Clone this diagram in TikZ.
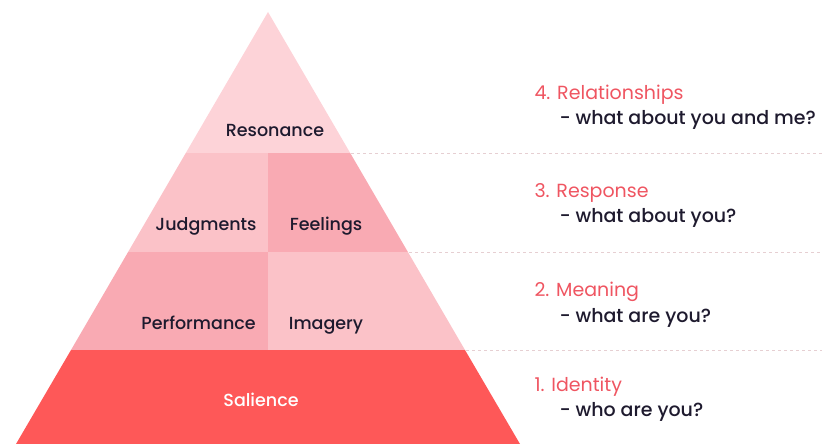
\documentclass[tikz,border=0pt]{standalone}
\usepackage{fontspec}
\setmainfont{Poppins}
\newfontfamily\medfont{Poppins Medium}
\definecolor{resonancecol}{HTML}{FDD3D8}
\definecolor{lightcol}{HTML}{FBC2C8}
\definecolor{darkcol}{HTML}{F9AAB3}
\definecolor{saliencecol}{HTML}{FE5858}
\definecolor{headcol}{HTML}{EF5561}
\definecolor{textcol}{HTML}{1E1A2E}
\definecolor{dashcol}{HTML}{E6CFD2}
\tikzset{
  block/.style={anchor=base,font=\medfont\fontsize{17.5}{20}\selectfont,text=textcol},
  heading/.style={anchor=base west,font=\fontsize{19}{21}\selectfont,text=headcol},
  question/.style={anchor=base west,font=\medfont\fontsize{19}{21}\selectfont,text=textcol},
  sep/.style={dashcol,dashed,line width=0.8pt}
}
\begin{document}
\begin{tikzpicture}[x=1pt,y=-1pt,line join=round]
\useasboundingbox (0,0) rectangle (822,444);
% pyramid levels
\fill[resonancecol] (268,12)--(350.2,153)--(185.8,153)--cycle;
\fill[lightcol] (185.8,153)--(268,153)--(268,252)--(128.1,252)--cycle;
\fill[darkcol] (268,153)--(350.2,153)--(407.9,252)--(268,252)--cycle;
\fill[darkcol] (128.1,252)--(268,252)--(268,350)--(71,350)--cycle;
\fill[lightcol] (268,252)--(407.9,252)--(465,350)--(268,350)--cycle;
\fill[saliencecol] (71,350)--(465,350)--(520,444)--(16,444)--cycle;
% separators
\draw[sep] (351,153)--(822,153);
\draw[sep] (409,252)--(822,252);
\draw[sep] (466,350)--(822,350);
% block labels
\path
  (275,136.5) node[block] (resonance) {Resonance}
  (206,230.5) node[block] (judgments) {Judgments}
  (326,230.5) node[block] (feelings) {Feelings}
  (198.5,329.5) node[block] (performance) {Performance}
  (326,329.5) node[block] (imagery) {Imagery}
  (261,406.5) node[block,text=white] (salience) {Salience}
  ;
% levels on the right
\path
  (531,99.5) node[heading] (relationships) {4. Relationships}
  (556,124.5) node[question] (relq) {- what about you and me?}
  (531,197) node[heading] (response) {3. Response}
  (556,222.5) node[question] (respq) {- what about you?}
  (531,296) node[heading] (meaning) {2. Meaning}
  (556,322.5) node[question] (meanq) {- what are you?}
  (531,391.5) node[heading] (identity) {1. Identity}
  (556,416.5) node[question] (identq) {- who are you?}
  ;
\end{tikzpicture}
\end{document}
